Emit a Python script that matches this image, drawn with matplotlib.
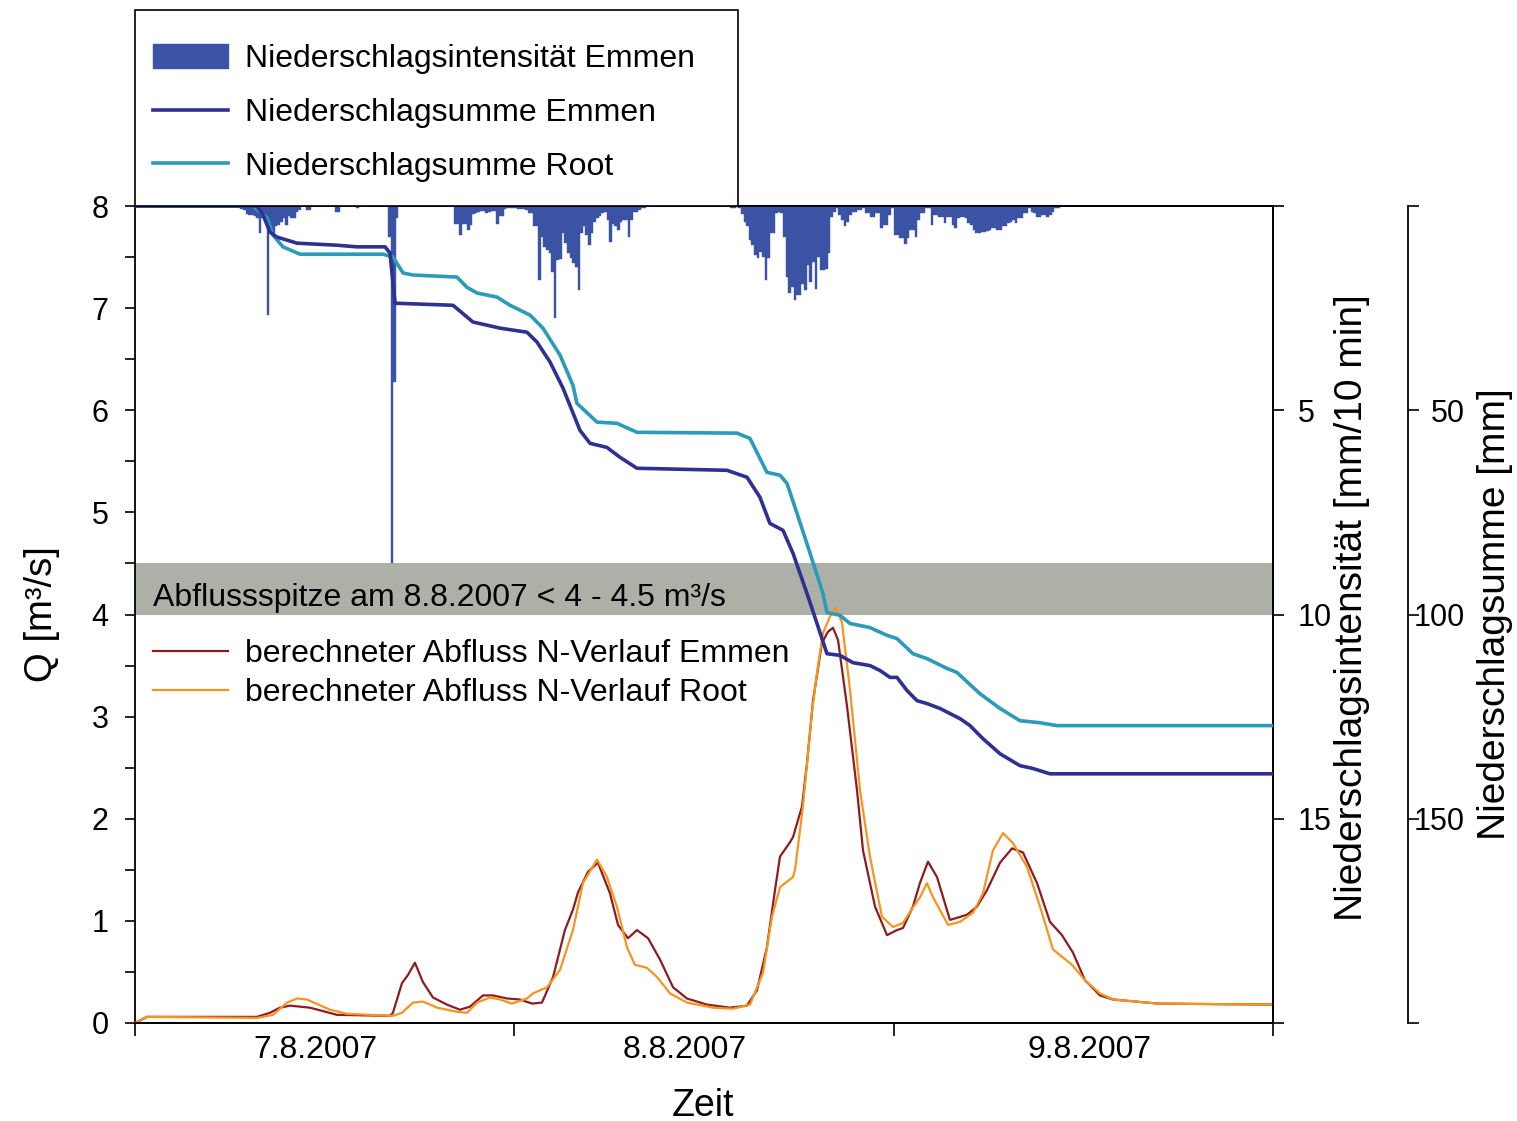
import numpy as np
import matplotlib
matplotlib.use('Agg')
import matplotlib.pyplot as plt
import matplotlib.ticker as ticker
from matplotlib.patches import Rectangle, Patch
from matplotlib.lines import Line2D

plt.rcParams['font.family'] = ['Liberation Sans', 'DejaVu Sans']

# Niederschlagsintensitaet Emmen [mm/10 min], 10-min Intervalle (Startindex ab 7.8. 00:00)
rain1_start = 40
rain1 = [0.08, 0.10, 0.20, 0.22, 0.22, 0.25, 0.30, 0.67, 0.30, 0.35, 2.67, 0.65,
         0.65, 0.50, 0.47, 0.40, 0.30, 0.47, 0.25, 0.30, 0.30, 0.15, 0.10]
rain_small_start = [65, 66, 76, 77, 84, 96, 97, 98, 99]
rain_small = [0.10, 0.10, 0.15, 0.15, 0.05, 0.75, 8.75, 4.30, 0.30]
rain2_start = 121
rain2 = [0.43, 0.43, 0.71, 0.43, 0.43, 0.59, 0.46, 0.20, 0.18, 0.15, 0.12, 0.12,
         0.18, 0.15, 0.12, 0.12, 0.43, 0.25, 0.25, 0.08, 0.05, 0.05, 0.05, 0.05,
         0.08, 0.08, 0.08, 0.10, 0.18, 0.18, 0.50, 0.50, 1.81, 0.75, 1.00, 1.08,
         1.16, 1.61, 2.75, 1.32, 1.30, 0.65, 0.91, 1.16, 1.28, 1.40, 1.49, 2.06,
         0.65, 0.50, 0.70, 0.96, 0.65, 0.40, 0.30, 0.25, 0.18, 0.15, 0.35, 0.88,
         0.45, 0.50, 0.58, 0.40, 0.35, 0.35, 0.75, 0.35, 0.15, 0.15, 0.10, 0.05, 0.05]
rain3_start = 226
rain3 = [0.04, 0.04, 0.03, 0.06, 0.20, 0.38, 0.50, 0.83, 0.96, 1.20, 1.28, 1.12,
         1.24, 1.81, 1.28, 0.67, 0.67, 0.18, 0.14, 0.18, 0.75, 1.73, 2.14, 1.98,
         2.30, 2.18, 2.18, 1.90, 2.06, 1.45, 1.85, 1.36, 2.02, 1.24, 1.57, 1.57,
         1.53, 1.16, 0.26, 0.14, 0.05, 0.22, 0.34, 0.50, 0.38, 0.22, 0.14, 0.14,
         0.10, 0.10, 0.06, 0.18, 0.18, 0.26, 0.26, 0.18, 0.18, 0.55, 0.47, 0.47,
         0.22, 0.05, 0.71, 0.71, 0.79, 0.79, 0.92, 0.79, 0.59, 0.59, 0.75, 0.34,
         0.18, 0.18, 0.06, 0.06, 0.47, 0.22, 0.22, 0.26, 0.26, 0.42, 0.26, 0.26,
         0.47, 0.55, 0.30, 0.26, 0.26, 0.30, 0.42, 0.47, 0.59, 0.67, 0.67, 0.63,
         0.63, 0.60, 0.59, 0.55, 0.55, 0.59, 0.59, 0.50, 0.50, 0.42, 0.38, 0.34,
         0.42, 0.30, 0.30, 0.18, 0.18, 0.06, 0.14, 0.18, 0.26, 0.26, 0.22, 0.22,
         0.26, 0.22, 0.14, 0.05, 0.04]

# Niederschlagssummen [mm], Zeit in Stunden ab 7.8.2007 00:00
sum_emmen_t = [0, 7.72, 8.10, 8.54, 8.98, 10.25, 12.78, 14.05, 15.82, 16.13, 16.32,
               16.45, 20.12, 21.38, 23.09, 24.80, 25.43, 26.26, 27.08, 28.15, 28.79,
               29.86, 30.68, 31.76, 37.45, 38.72, 39.54, 40.17, 41.00, 41.63, 42.52,
               43.15, 43.78, 44.60, 45.43, 46.50, 47.13, 47.77, 48.21, 48.84, 49.48,
               50.11, 50.93, 52.20, 52.83, 53.65, 54.73, 55.99, 56.81, 57.89, 72]
sum_emmen = [0, 0, 2.2, 6.4, 7.6, 9.1, 9.6, 10.0, 10.0, 11.5, 18.6,
             23.8, 24.3, 28.4, 29.9, 30.9, 33.3, 38.2, 44.6, 54.9, 58.1,
             59.1, 61.5, 64.2, 64.7, 66.4, 71.3, 77.7, 79.4, 85.0, 94.9,
             102.2, 109.6, 110.0, 111.8, 112.5, 113.7, 115.4, 115.4, 118.6, 121.1,
             121.8, 123.0, 125.5, 127.2, 130.4, 134.1, 137.0, 137.7, 139.0, 139.0]
sum_root_t = [0, 7.47, 8.35, 8.73, 9.36, 10.44, 15.69, 16.32, 16.96, 17.59, 20.37,
              21.00, 21.64, 22.90, 23.73, 24.99, 25.81, 26.89, 27.71, 27.96, 29.23,
              30.49, 31.76, 38.09, 38.91, 39.98, 40.81, 41.25, 41.88, 42.71, 43.53,
              43.78, 44.60, 45.24, 46.50, 47.58, 48.21, 49.22, 50.11, 51.37, 52.01,
              53.46, 54.73, 55.99, 57.26, 58.33, 72]
sum_root = [0, 0, 2.9, 7.1, 10.0, 11.8, 11.8, 12.5, 16.4, 16.9, 17.4,
            19.9, 21.3, 22.3, 24.3, 26.7, 29.9, 36.5, 43.9, 48.3, 52.9,
            53.2, 55.4, 55.6, 56.9, 65.2, 65.9, 67.9, 75.2, 85.0, 94.9,
            99.5, 100.2, 102.2, 103.2, 105.1, 105.9, 109.6, 110.8, 113.2, 114.2,
            119.4, 123.0, 126.0, 126.5, 127.2, 127.2]

# berechneter Abfluss Q [m3/s]
q_emmen_t = [0, 0.76, 7.72, 8.54, 9.17, 9.81, 11.07, 12.78, 16.13, 16.32, 16.89, 17.27,
             17.71, 18.22, 18.85, 19.74, 20.56, 21.19, 22.02, 22.65, 23.54, 24.36,
             25.12, 25.75, 26.45, 27.20, 27.71, 28.03, 28.66, 29.29, 30.05, 30.56,
             31.19, 31.76, 32.46, 33.22, 34.04, 34.92, 36.19, 37.64, 38.72, 39.35,
             39.98, 40.49, 40.81, 41.44, 41.63, 42.20, 42.52, 42.90, 43.46, 43.84,
             44.16, 44.48, 45.05, 45.68, 46.06, 46.82, 47.58, 48.21, 48.59, 49.22,
             49.66, 50.17, 50.74, 51.56, 52.01, 52.64, 53.27, 53.90, 54.73, 55.49,
             56.18, 57.07, 57.89, 58.65, 59.34, 60.10, 61.05, 61.88, 64.72, 72]
q_emmen = [0, 0.06, 0.06, 0.10, 0.15, 0.17, 0.15, 0.08, 0.07, 0.10, 0.39, 0.47,
           0.59, 0.40, 0.25, 0.18, 0.13, 0.16, 0.27, 0.27, 0.24, 0.23,
           0.19, 0.20, 0.45, 0.91, 1.11, 1.28, 1.48, 1.57, 1.27, 0.96,
           0.83, 0.91, 0.83, 0.62, 0.35, 0.24, 0.18, 0.15, 0.17, 0.32,
           0.74, 1.30, 1.63, 1.77, 1.82, 2.12, 2.55, 3.16, 3.72, 3.83,
           3.87, 3.75, 3.10, 2.28, 1.69, 1.14, 0.86, 0.91, 0.93, 1.14,
           1.37, 1.58, 1.43, 1.01, 1.03, 1.06, 1.14, 1.30, 1.57, 1.71,
           1.67, 1.37, 0.99, 0.86, 0.69, 0.42, 0.27, 0.23, 0.19, 0.18]
q_root_t = [0, 0.76, 7.72, 8.73, 9.62, 10.25, 10.88, 12.34, 13.41, 16.32, 16.89, 17.59,
            18.22, 19.11, 20.37, 21.00, 21.64, 22.46, 23.09, 23.85, 24.80, 25.18,
            26.07, 26.89, 27.71, 28.34, 29.23, 29.86, 30.49, 31.13, 31.63, 32.39,
            33.03, 33.85, 34.92, 36.57, 37.83, 38.91, 39.73, 40.30, 40.81, 41.63,
            41.76, 42.26, 42.83, 43.15, 43.53, 43.97, 44.35, 44.73, 45.24, 45.87,
            46.50, 47.26, 47.96, 48.59, 49.22, 49.66, 50.11, 50.49, 51.44, 52.20,
            53.02, 53.65, 54.28, 54.92, 55.55, 56.43, 57.26, 58.08, 59.28, 60.10,
            61.05, 61.88, 64.72, 72]
q_root = [0, 0.06, 0.05, 0.08, 0.20, 0.24, 0.23, 0.13, 0.09, 0.07, 0.10, 0.20,
          0.21, 0.15, 0.11, 0.10, 0.20, 0.25, 0.23, 0.19, 0.24, 0.29,
          0.35, 0.52, 0.91, 1.37, 1.60, 1.43, 1.14, 0.74, 0.57, 0.54,
          0.45, 0.29, 0.20, 0.15, 0.14, 0.18, 0.49, 1.04, 1.33, 1.43,
          1.50, 2.12, 3.04, 3.43, 3.82, 3.98, 4.07, 3.92, 3.26, 2.28,
          1.63, 1.04, 0.94, 0.98, 1.13, 1.23, 1.37, 1.23, 0.96, 0.99,
          1.08, 1.27, 1.69, 1.86, 1.76, 1.53, 1.14, 0.72, 0.57, 0.42,
          0.29, 0.23, 0.19, 0.18]

peak_band = (4.0, 4.5)
day_labels = ['7.8.2007', '8.8.2007', '9.8.2007']
day_label_pos = [11.4, 34.8, 60.4]

c_bar = '#3a53a4'
c_sum_emmen = '#2e3192'
c_sum_root = '#2a9bb8'
c_q_emmen = '#8e1b1f'
c_q_root = '#f7941d'
c_band = '#adb0a7'

W, H = 1517, 1121
fig = plt.figure(figsize=(W / 100, H / 100), dpi=100)
ax = fig.add_axes([135 / W, 1 - 1023 / H, 1138 / W, 817 / H])
ax_i = ax.twinx()
ax_s = ax.twinx()
ax_s.spines['right'].set_position(('outward', 97))

# Abflussspitze
ax.axhspan(*peak_band, color=c_band, lw=0, zorder=1)
ax.text(1.14, 4.16, 'Abflussspitze am 8.8.2007 < 4 - 4.5 m³/s', fontsize=23,
        va='center', ha='left', zorder=5)

l_qe, = ax.plot(q_emmen_t, q_emmen, color=c_q_emmen, lw=1.6, zorder=3)
l_qr, = ax.plot(q_root_t, q_root, color=c_q_root, lw=1.6, zorder=3)

# Niederschlagsbalken
for k0, vals in [(rain1_start, rain1), (rain2_start, rain2), (rain3_start, rain3)]:
    t = (k0 + np.arange(len(vals))) / 6.0
    ax_i.bar(t, vals, width=1 / 6.0, align='edge', color=c_bar, ec=c_bar, lw=0.3)
ax_i.bar(np.array(rain_small_start) / 6.0, rain_small, width=1 / 6.0, align='edge',
         color=c_bar, ec=c_bar, lw=0.3)

ax_s.plot(sum_root_t, sum_root, color=c_sum_root, lw=2.6)
ax_s.plot(sum_emmen_t, sum_emmen, color=c_sum_emmen, lw=2.6)

# Achsen
ax.set_xlim(0, 72)
ax.set_ylim(0, 8)
ax_i.set_ylim(20, 0)
ax_s.set_ylim(200, 0)

ax.xaxis.set_major_locator(ticker.FixedLocator([0, 24, 48, 72]))
ax.xaxis.set_major_formatter(ticker.NullFormatter())
ax.xaxis.set_minor_locator(ticker.FixedLocator(day_label_pos))
ax.xaxis.set_minor_formatter(ticker.FixedFormatter(day_labels))
ax.tick_params(axis='x', which='major', length=9, width=1.2, direction='out')
ax.tick_params(axis='x', which='minor', length=0, pad=9, labelsize=23)

ax.yaxis.set_major_locator(ticker.MultipleLocator(1))
ax.yaxis.set_minor_locator(ticker.MultipleLocator(0.5))
ax.tick_params(axis='y', which='major', length=7, width=1.2, pad=12, labelsize=22)
ax.tick_params(axis='y', which='minor', length=7, width=1.2)

ax_i.yaxis.set_major_locator(ticker.FixedLocator([0, 5, 10, 15, 20]))
ax_i.yaxis.set_major_formatter(ticker.FixedFormatter(['', '5', '10', '15', '']))
ax_i.tick_params(axis='y', length=8, width=1.2, pad=10, labelsize=22)

ax_s.yaxis.set_major_locator(ticker.FixedLocator([0, 50, 100, 150, 200]))
ax_s.yaxis.set_major_formatter(ticker.FixedFormatter(['', '50', '100', '150', '']))
ax_s.tick_params(axis='y', length=8, width=1.2, pad=33, labelsize=22)
for lab in ax_s.get_yticklabels():
    lab.set_ha('right')

for a in (ax, ax_i, ax_s):
    for s in a.spines.values():
        s.set_linewidth(1.3)
ax_s.spines['top'].set_visible(False)
ax_s.spines['bottom'].set_visible(False)
ax_s.spines['left'].set_visible(False)
ax_i.spines['left'].set_visible(False)

ax.set_xlabel('Zeit', fontsize=27)
ax.xaxis.set_label_coords(0.499, -0.079)
ax.set_ylabel('Q [m³/s]', fontsize=27.5)
ax.yaxis.set_label_coords(-0.066, 0.5)
ax_i.set_ylabel('Niederschlagsintensität [mm/10 min]', fontsize=28)
ax_i.yaxis.set_label_coords(1.0535, 0.508)
ax_s.set_ylabel('Niederschlagsumme [mm]', fontsize=28)
ax_s.yaxis.set_label_coords(1.179, 0.5)

# Legende oben mit Rahmen
frame = Rectangle((135 / W, 1 - 206 / H), (738 - 135) / W, (206 - 10) / H,
                  transform=fig.transFigure, fc='white', ec='black', lw=1.2, zorder=4)
fig.add_artist(frame)
h_top = [Patch(fc=c_bar, ec=c_bar),
         Line2D([], [], color=c_sum_emmen, lw=2.6),
         Line2D([], [], color=c_sum_root, lw=2.6)]
leg1 = fig.legend(h_top, ['Niederschlagsintensität Emmen', 'Niederschlagsumme Emmen',
                          'Niederschlagsumme Root'],
                  loc='upper left', bbox_to_anchor=(153 / W, 1 - 44 / H), frameon=False,
                  fontsize=23, handlelength=2.35, handleheight=0.75, handletextpad=0.53,
                  labelspacing=0.75, borderpad=0, borderaxespad=0)
leg1.set_zorder(5)

leg2 = fig.legend([l_qe, l_qr], ['berechneter Abfluss N-Verlauf Emmen',
                                 'berechneter Abfluss N-Verlauf Root'],
                  loc='upper left', bbox_to_anchor=(153 / W, 1 - 639 / H), frameon=False,
                  fontsize=23, handlelength=2.35, handletextpad=0.53,
                  labelspacing=0.29, borderpad=0, borderaxespad=0)
leg2.set_zorder(5)

fig.savefig('out.png', dpi=100)
